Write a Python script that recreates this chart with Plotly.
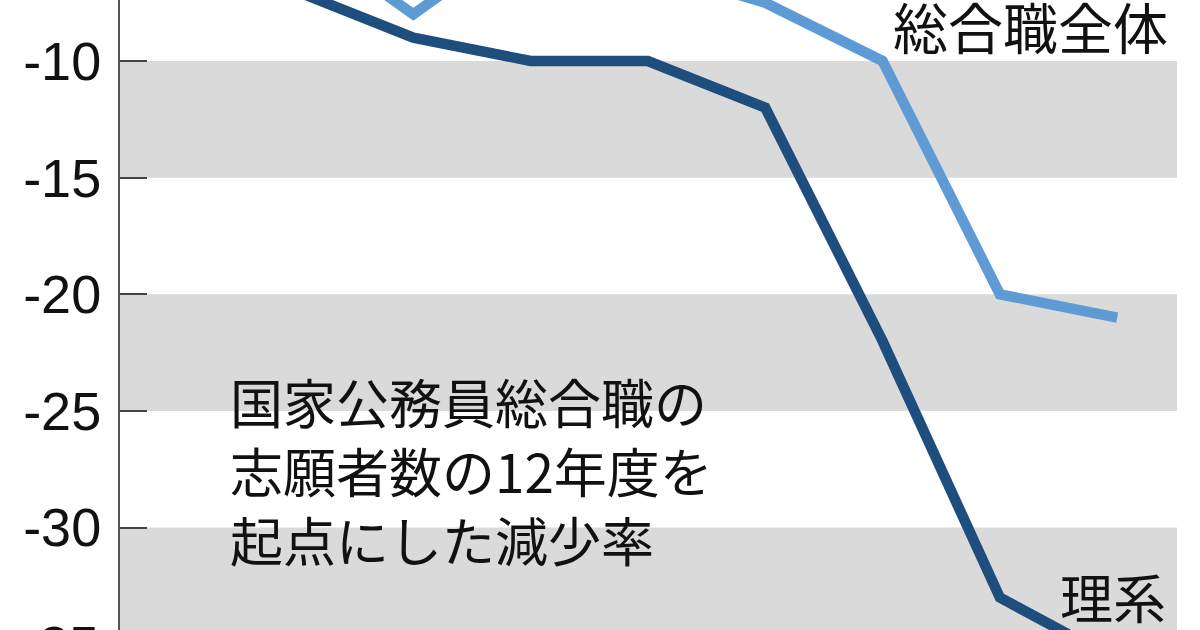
import plotly.graph_objects as go

# ---- data ----
years = [2015, 2016, 2017, 2018, 2019, 2020, 2021, 2022, 2023]
total_rate = [-3.0, -4.4, -8.0, -4.4, -6.0, -7.5, -10.0, -20.0, -21.0]   # 総合職全体
science_rate = [-4.0, -7.0, -9.0, -10.0, -10.0, -12.0, -22.0, -33.0, -35.7]  # 理系
tick_vals = [-10, -15, -20, -25, -30]
tick_text = ["-10", "-15", "-20", "-25", "-30"]
band_ranges = [(-10, -15), (-20, -25), (-30, -35)]
label_total = "総合職全体"
label_science = "理系"
note_lines = ["国家公務員総合職の", "志願者数の12年度を", "起点にした減少率"]

W, H = 1200, 630
L, R = 120, 1177
X_RANGE = [2014.5, 2023.51]
Y_RANGE = [-34.39, -7.385]

JP = "Noto Sans CJK JP, Noto Sans, sans-serif"
NUM = "Liberation Sans Narrow, Arial Narrow, Liberation Sans, Arial, sans-serif"

fig = go.Figure()

fig.add_trace(go.Scatter(x=years, y=total_rate, mode="lines",
                         line=dict(color="#5e9ad4", width=10.5),
                         hoverinfo="skip", showlegend=False))
fig.add_trace(go.Scatter(x=years, y=science_rate, mode="lines",
                         line=dict(color="#1d4e7e", width=10.5),
                         hoverinfo="skip", showlegend=False))

for y0, y1 in band_ranges:
    fig.add_shape(type="rect", xref="paper", yref="y", x0=0, x1=1, y0=y0, y1=y1,
                  fillcolor="#dadada", line=dict(width=0), layer="below")

def px2paper(px, py):
    return (px - L) / (R - L), (H - py) / H

ax, ay = px2paper(891, 25)
fig.add_annotation(x=ax, y=ay, xref="paper", yref="paper", text=label_total,
                   showarrow=False, xanchor="left", yanchor="middle",
                   font=dict(family=JP, size=55, color="#111"))
ax, ay = px2paper(1058, 596)
fig.add_annotation(x=ax, y=ay, xref="paper", yref="paper", text=label_science,
                   showarrow=False, xanchor="left", yanchor="middle",
                   font=dict(family=JP, size=53, color="#111"))
ax, ay = px2paper(228, 470)
fig.add_annotation(x=ax, y=ay, xref="paper", yref="paper", text="<br>".join(note_lines),
                   showarrow=False, xanchor="left", yanchor="middle", align="left",
                   font=dict(family=JP, size=53, color="#111"))

# partially visible bottom tick label
ax, ay = px2paper(101, 645)
fig.add_annotation(x=ax, y=ay, xref="paper", yref="paper", text="-35",
                   showarrow=False, xanchor="right", yanchor="middle",
                   font=dict(family=NUM, size=54, color="#111"))

fig.update_xaxes(range=X_RANGE, visible=False, showgrid=False, zeroline=False)
fig.update_yaxes(range=Y_RANGE, tickmode="array", tickvals=tick_vals, ticktext=tick_text,
                 ticks="inside", ticklen=27, tickwidth=2, tickcolor="#444",
                 showline=True, linecolor="#555", linewidth=2,
                 showgrid=False, zeroline=False, ticklabelstandoff=6,
                 tickfont=dict(family=NUM, size=54, color="#111"))

fig.update_layout(width=W, height=H, autosize=False,
                  margin=dict(l=L, r=W - R, t=0, b=0, pad=0),
                  paper_bgcolor="white", plot_bgcolor="white")

fig.write_html("out.html", config={"displayModeBar": False},
               post_script="document.body.style.margin='0';document.body.style.overflow='hidden';")
